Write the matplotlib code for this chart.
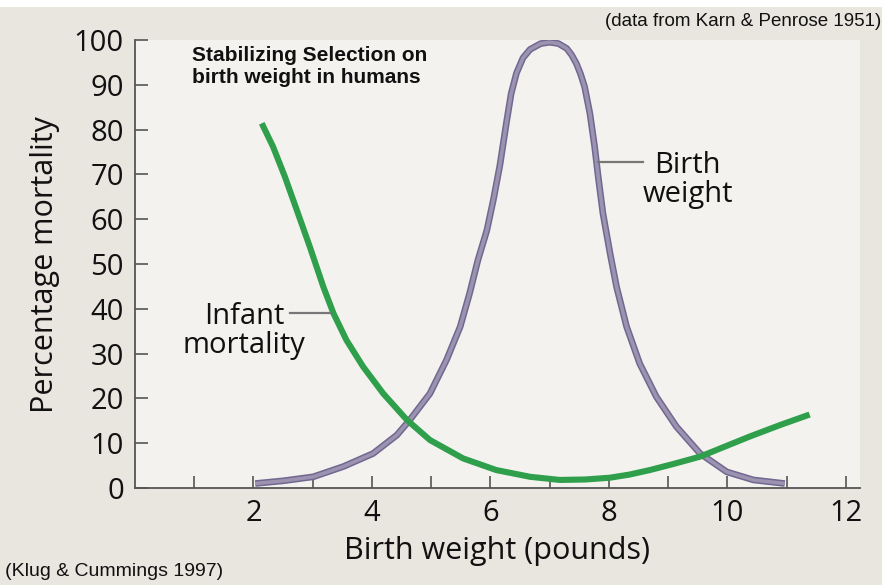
import matplotlib
matplotlib.use("Agg")
import matplotlib.pyplot as plt
from matplotlib.patches import Rectangle

# birth weight distribution (percent of peak)
bw_x = [2.03, 2.5, 3.01, 3.52, 4.02, 4.42, 4.64, 4.98, 5.26, 5.49, 5.65, 5.79, 5.94, 6.05,
        6.16, 6.27, 6.35, 6.44, 6.55, 6.67, 6.85, 7.0, 7.15, 7.29, 7.37, 7.45, 7.52, 7.59,
        7.68, 7.76, 7.82, 7.9, 8.02, 8.13, 8.3, 8.52, 8.8, 9.14, 9.54, 9.99, 10.44, 10.97]
bw_y = [1.0, 1.6, 2.5, 4.8, 7.7, 11.8, 15.2, 21.1, 28.6, 36.0, 43.5, 50.9, 57.5, 64.3,
        72.0, 81.5, 88.0, 92.6, 96.0, 97.9, 99.2, 99.5, 99.2, 98.1, 96.7, 94.8, 92.5, 89.6,
        83.6, 76.2, 69.5, 61.3, 52.4, 44.9, 36.0, 27.8, 20.4, 13.7, 7.7, 3.6, 1.8, 1.0]

# infant mortality (%)
im_x = [2.14, 2.33, 2.53, 2.73, 2.95, 3.18, 3.35, 3.57, 3.85, 4.19, 4.59, 4.98, 5.54,
        6.1, 6.67, 7.17, 7.6, 8.02, 8.35, 8.69, 9.1, 9.54, 9.95, 10.38, 10.9, 11.39]
im_y = [81.4, 76.2, 69.5, 62.1, 53.9, 44.9, 39.0, 33.0, 27.1, 21.1, 15.2, 10.7, 6.6,
        4.0, 2.5, 1.8, 1.9, 2.3, 3.0, 4.0, 5.4, 7.0, 9.2, 11.5, 14.1, 16.4]

xticks = list(range(1, 13))
xticklabels = [str(t) if t % 2 == 0 else "" for t in xticks]
yticks = list(range(0, 101, 10))

font = "Open Sans"
green = "#2f9f4c"

fig = plt.figure(figsize=(8.82, 5.85), dpi=100)
fig.patch.set_facecolor("#e9e5df")
fig.patches.append(Rectangle((0, 1 - 7 / 585), 1, 7 / 585, transform=fig.transFigure,
                             facecolor="white", edgecolor="none", zorder=0))

ax = fig.add_axes([135 / 882, 1 - 488 / 585, (860 - 135) / 882, (488 - 40) / 585])
ax.set_facecolor("#f3f2ef")

ax.plot(bw_x, bw_y, color="#6f6890", lw=4.8, solid_capstyle="butt", solid_joinstyle="round")
ax.plot(bw_x, bw_y, color="#9d93b0", lw=2.6, solid_capstyle="butt", solid_joinstyle="round")
ax.plot(im_x, im_y, color=green, lw=4.4, solid_capstyle="butt", solid_joinstyle="round")

ax.set_xlim(0, 12.24)
ax.set_ylim(0, 100)
ax.set_xticks(xticks)
ax.set_xticklabels(xticklabels)
ax.set_yticks(yticks)
for s in ["top", "right"]:
    ax.spines[s].set_visible(False)
for s in ["left", "bottom"]:
    ax.spines[s].set_color("#555555")
    ax.spines[s].set_linewidth(1.3)
ax.tick_params(direction="in", length=9, width=1.2, color="#555555", pad=8,
               labelsize=21, labelcolor="#111111")
for lab in ax.get_xticklabels() + ax.get_yticklabels():
    lab.set_fontfamily(font)

ax.set_xlabel("Birth weight (pounds)", fontsize=22, family=font, color="#111111")
ax.set_ylabel("Percentage mortality", fontsize=22, family=font, color="#111111")
ax.xaxis.set_label_coords(0.499, -0.108)
ax.yaxis.set_label_coords(-0.104, 0.498)

# curve labels with leader lines
ax.plot([7.81, 8.57], [72.8, 72.8], color="#777777", lw=1.6)
ax.text(9.33, 68.8, "Birth\nweight", ha="center", va="center", fontsize=21,
        family=font, color="#111111", linespacing=1.0)
ax.plot([2.62, 3.29], [39, 39], color="#777777", lw=1.6)
ax.text(1.84, 35, "Infant\nmortality", ha="center", va="center", fontsize=21,
        family=font, color="#111111", linespacing=1.0)

ax.text(0.96, 98.6, "Stabilizing Selection on\nbirth weight in humans", ha="left", va="top",
        fontsize=15, family="Liberation Sans", weight="bold", color="#111111",
        linespacing=1.15)

fig.text(605 / 882, 1 - 21 / 585, "(data from Karn & Penrose 1951)", ha="left", va="center",
         fontsize=13.5, family="Liberation Sans", color="#111111")
fig.text(5 / 882, 1 - 572 / 585, "(Klug & Cummings 1997)", ha="left", va="center",
         fontsize=14, family="Liberation Sans", color="#111111")

fig.savefig("out.png", dpi=100, facecolor=fig.get_facecolor())
